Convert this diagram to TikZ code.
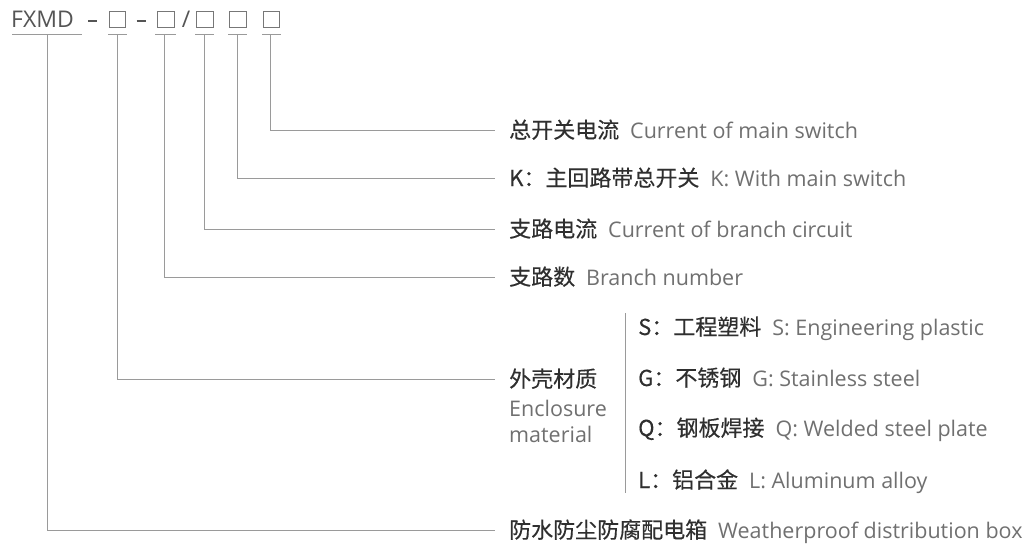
\documentclass[tikz,border=0pt]{standalone}
\usepackage{fontspec}
\setmainfont{Open Sans}
\newfontfamily\cjkf[FakeBold=0.3]{Noto Sans CJK SC}
\definecolor{zhc}{HTML}{2F2F2F}
\definecolor{enc}{HTML}{707070}
\definecolor{hdc}{HTML}{555555}
\definecolor{linec}{HTML}{9A9A9A}
\newcommand\ZH[1]{{\cjkf\fontsize{22}{26}\selectfont\color{zhc}#1}}
\newcommand\EN[1]{{\color{enc}#1}}
\newcommand\GAP{\hspace{11pt}}
\begin{document}
\begin{tikzpicture}[x=1pt,y=-1pt,
  conn/.style={draw=linec, line width=0.9pt},
  lab/.style={anchor=base west, inner sep=0pt, font=\fontsize{21.5}{26}\selectfont},
  hdr/.style={anchor=base, inner sep=0pt, text=hdc, font=\fontsize{23}{27}\selectfont},
  dsh/.style={draw=hdc, line width=1.4pt},
  sq/.style={draw=hdc!80, line width=0.8pt, minimum width=16.5pt, minimum height=15.5pt, inner sep=0pt}]
\useasboundingbox (0,0) rectangle (1033,544);

% header
\node[hdr, anchor=base west] (fx) at (11,27) {FXMD};
\coordinate (h1a) at (88,21); \coordinate (h1b) at (97,21);
\draw[dsh] (h1a) -- (h1b);
\node[sq] (b1) at (117.5,19.5) {};
\coordinate (h2a) at (136.5,21); \coordinate (h2b) at (145.5,21);
\draw[dsh] (h2a) -- (h2b);
\node[sq] (b2) at (166,19.5) {};
\node[hdr] (h3) at (186,27) {/};
\node[sq] (b3) at (205,19.5) {};
\node[sq] (b4) at (238,19.5) {};
\node[sq] (b5) at (271.5,19.5) {};

% underlines
\coordinate (u0l) at (12,34); \coordinate (u0r) at (82,34);
\coordinate (u1l) at (108,34); \coordinate (u1r) at (127,34);
\coordinate (u2l) at (155,34); \coordinate (u2r) at (176,34);
\coordinate (u3l) at (195,34); \coordinate (u3r) at (214,34);
\coordinate (u4l) at (228,34); \coordinate (u4r) at (247,34);
\coordinate (u5l) at (262,34); \coordinate (u5r) at (281,34);
\foreach \i in {0,...,5} { \draw[conn] (u\i l) -- (u\i r); }

% tap points
\coordinate (t0) at (47,34);
\coordinate (t1) at (117.5,34);
\coordinate (t2) at (164.5,34);
\coordinate (t3) at (204,34);
\coordinate (t4) at (237.5,34);
\coordinate (t5) at (270,34);

% line ends
\coordinate (e5) at (495,130);
\coordinate (e4) at (495,178);
\coordinate (e3) at (495,229);
\coordinate (e2) at (495,277);
\coordinate (e1) at (495,379);
\coordinate (e0) at (495,530);

\draw[conn] (t5) |- (e5);
\draw[conn] (t4) |- (e4);
\draw[conn] (t3) |- (e3);
\draw[conn] (t2) |- (e2);
\draw[conn] (t1) |- (e1);
\draw[conn] (t0) |- (e0);

% labels
\node[lab] (l5) at (509,138) {\ZH{总开关电流}\GAP\EN{Current of main switch}};
\node[lab] (l4) at (509,186) {\ZH{K：主回路带总开关}\GAP\EN{K: With main switch}};
\node[lab] (l3) at (509,237) {\ZH{支路电流}\GAP\EN{Current of branch circuit}};
\node[lab] (l2) at (509,285) {\ZH{支路数}\GAP\EN{Branch number}};
\node[lab] (l1) at (509,387) {\ZH{外壳材质}};
\node[lab] (l1a) at (509,416) {\EN{Enclosure}};
\node[lab] (l1b) at (509,442) {\EN{material}};
\node[lab] (l0) at (509,538) {\ZH{防水防尘防腐配电箱}\GAP\EN{Weatherproof distribution box}};

% material options
\coordinate (sepT) at (625,313);
\coordinate (sepB) at (625,493);
\draw[conn] (sepT) -- (sepB);
\node[lab] (mS) at (638,335) {\ZH{S：工程塑料}\GAP\EN{S: Engineering plastic}};
\node[lab] (mG) at (638,386) {\ZH{G：不锈钢}\GAP\EN{G: Stainless steel}};
\node[lab] (mQ) at (638,436) {\ZH{Q：钢板焊接}\GAP\EN{Q: Welded steel plate}};
\node[lab] (mL) at (638,488) {\ZH{L：铝合金}\GAP\EN{L: Aluminum alloy}};
\end{tikzpicture}
\end{document}
